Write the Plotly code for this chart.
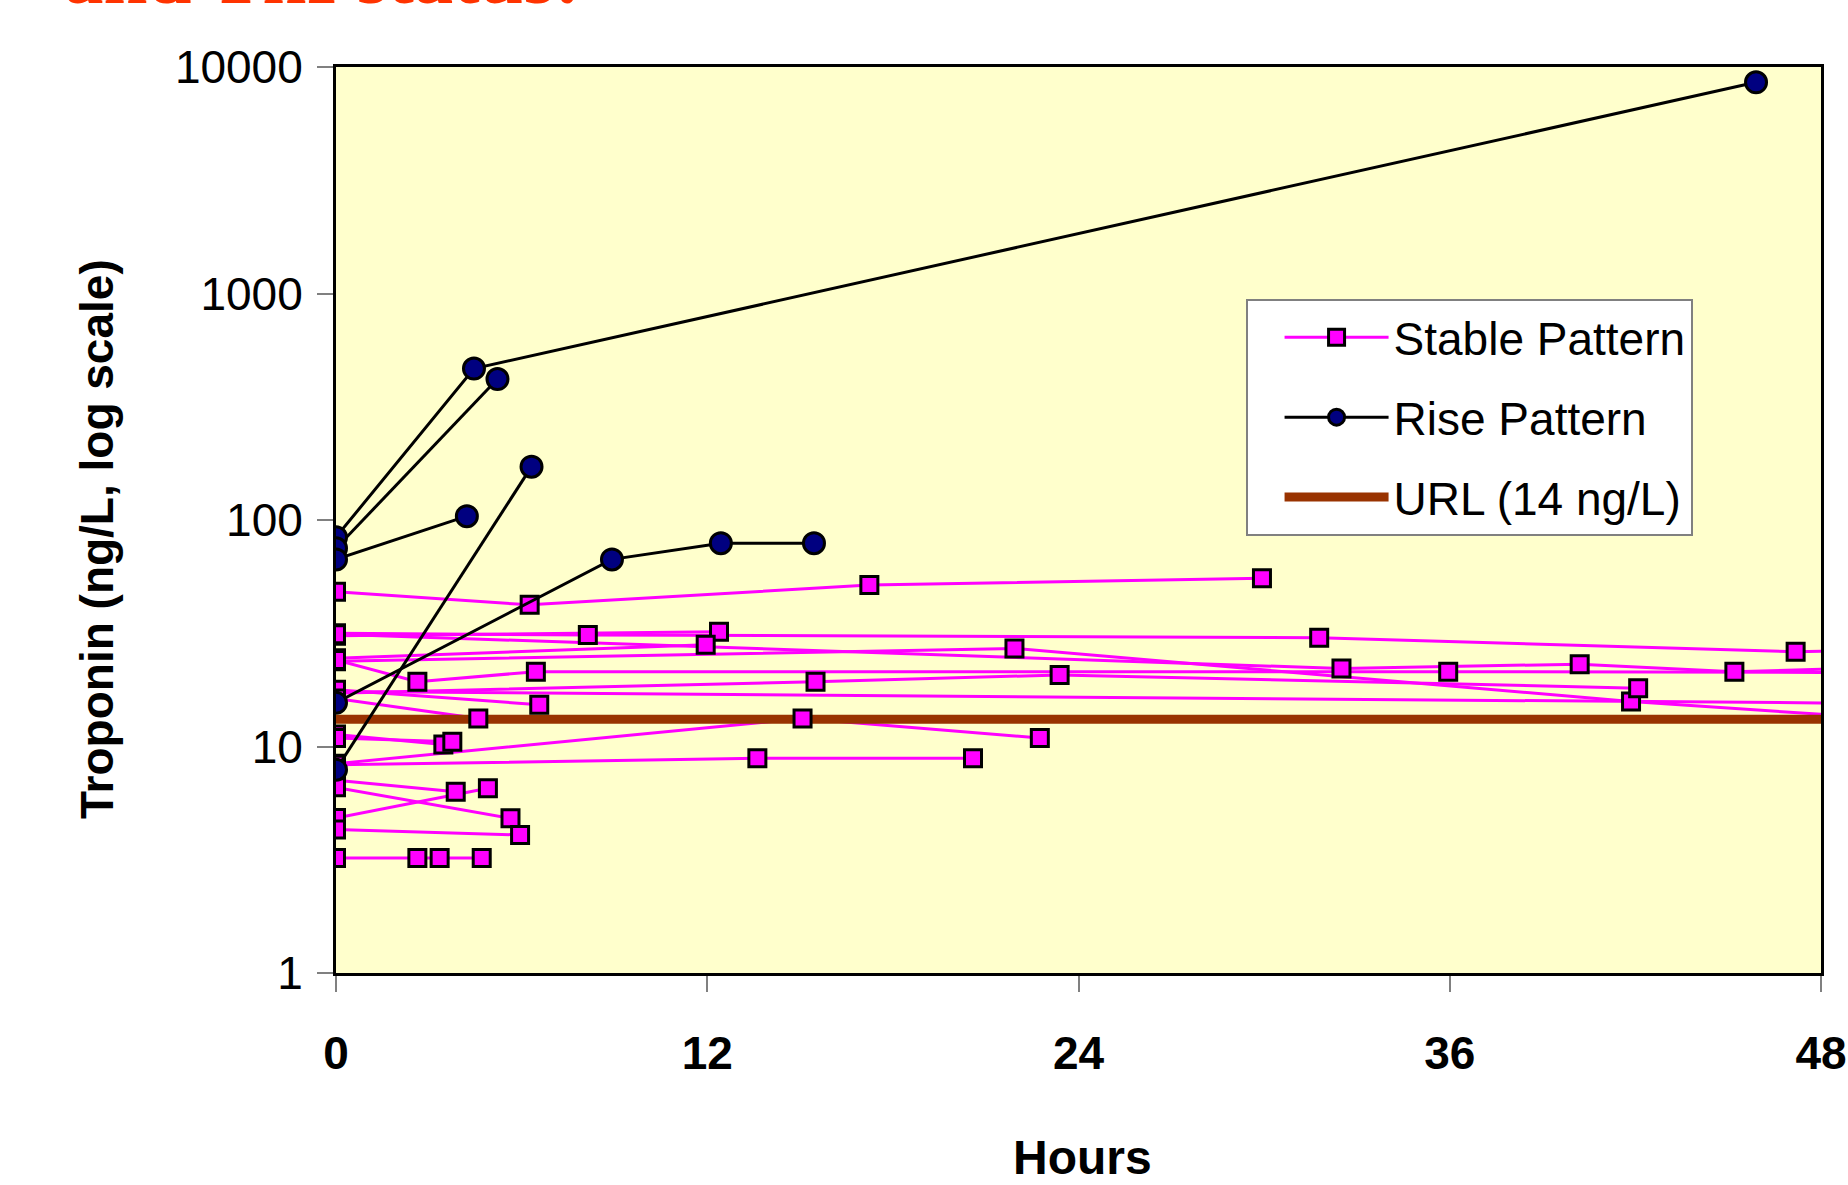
import plotly.graph_objects as go

# ---------------- data (hours, troponin ng/L) ----------------
# Stable pattern patients
st01_h = [0, 6.26, 17.24, 29.93];        st01_v = [48.2, 42.2, 51.6, 55.3]
st02_h = [0, 8.14, 31.78, 47.18, 50];    st02_v = [31.6, 31.1, 30.2, 26.2, 26.7]
st03_h = [0, 12.38];                     st03_v = [30.8, 32.1]
st04_h = [0, 32.5, 40.2, 45.2, 50];      st04_v = [31.3, 22.1, 23.1, 21.4, 22.3]
st05_h = [0, 11.95];                     st05_v = [24.5, 28.1]
st06_h = [0, 21.93, 41.86, 50];          st06_v = [23.8, 27.1, 15.8, 13.3]
st07_h = [0, 2.63, 6.46, 35.95, 50];     st07_v = [24.1, 19.3, 21.4, 21.4, 21.2]
st08_h = [0, 15.5, 23.39, 42.09];        st08_v = [17.2, 19.3, 20.7, 18.1]
st09_h = [0, 50];                        st09_v = [17.5, 15.5]
st10_h = [0, 6.57];                      st10_v = [17.8, 15.3]
st11_h = [0, 4.6];                       st11_v = [16.3, 13.3]
st12_h = [0, 3.47];                      st12_v = [11.3, 10.2]
st13_h = [0, 3.76];                      st13_v = [10.9, 10.5]
st14_h = [0, 15.08, 22.75];              st14_v = [8.4, 13.3, 10.9]
st15_h = [0, 13.62, 20.59];              st15_v = [8.3, 8.87, 8.87]
st16_h = [0, 3.87];                      st16_v = [7.1, 6.31]
st17_h = [0, 4.91];                      st17_v = [4.83, 6.54]
st18_h = [0, 5.64];                      st18_v = [6.6, 4.82]
st19_h = [0, 5.95];                      st19_v = [4.3, 4.07]
st20_h = [0, 2.63, 3.35, 4.71];          st20_v = [3.22, 3.22, 3.22, 3.22]

# Rise pattern patients
ri01_h = [0, 4.46, 45.9];                ri01_v = [84, 466, 8560]
ri02_h = [0, 5.22];                      ri02_v = [75, 419]
ri03_h = [0, 4.23];                      ri03_v = [67, 104]
ri04_h = [0, 6.32];                      ri04_v = [7.9, 172]
ri05_h = [0, 8.92, 12.44, 15.45];        ri05_v = [15.6, 67, 79, 79]

# Upper reference limit line
url_h = [0, 48]
url_v = [13.2, 13.2]

x_ticks = [0, 12, 24, 36, 48]
y_ticks = [1, 10, 100, 1000, 10000]
y_tick_text = ["1", "10", "100", "1000", "10000"]

stable_series = [(st01_h, st01_v), (st02_h, st02_v), (st03_h, st03_v), (st04_h, st04_v),
                 (st05_h, st05_v), (st06_h, st06_v), (st07_h, st07_v), (st08_h, st08_v),
                 (st09_h, st09_v), (st10_h, st10_v), (st11_h, st11_v), (st12_h, st12_v),
                 (st13_h, st13_v), (st14_h, st14_v), (st15_h, st15_v), (st16_h, st16_v),
                 (st17_h, st17_v), (st18_h, st18_v), (st19_h, st19_v), (st20_h, st20_v)]
rise_series = [(ri01_h, ri01_v), (ri02_h, ri02_v), (ri03_h, ri03_v),
               (ri04_h, ri04_v), (ri05_h, ri05_v)]


def join(series):
    xs, ys = [], []
    for h, v in series:
        xs += list(h) + [None]
        ys += list(v) + [None]
    return xs, ys


sx, sy = join(stable_series)
rx, ry = join(rise_series)

MAG = "#FF00FF"
NAVY = "#000080"
BROWN = "#993300"
SANS = "Liberation Sans, Arial, sans-serif"

sq_marker = dict(symbol="square", size=17, color=MAG, line=dict(color="black", width=3))
ci_marker = dict(symbol="circle", size=21, color=NAVY, line=dict(color="black", width=3))

fig = go.Figure()
# stable lines (under the URL line)
fig.add_trace(go.Scatter(x=sx, y=sy, mode="lines", line=dict(color=MAG, width=3),
                         showlegend=False, hoverinfo="skip", legendgroup="s"))
# URL line
fig.add_trace(go.Scatter(x=url_h, y=url_v, mode="lines", name="URL (14 ng/L)",
                         line=dict(color=BROWN, width=9), legendrank=3, legendgroup="u"))
# stable markers
fig.add_trace(go.Scatter(x=sx, y=sy, mode="markers", marker=sq_marker,
                         showlegend=False, legendgroup="s"))
# legend entry for stable
fig.add_trace(go.Scatter(x=[None], y=[None], mode="lines+markers", name="Stable Pattern",
                         line=dict(color=MAG, width=3), marker=sq_marker,
                         legendrank=1, legendgroup="s"))
# rise pattern
fig.add_trace(go.Scatter(x=rx, y=ry, mode="lines+markers", name="Rise Pattern",
                         line=dict(color="black", width=3), marker=ci_marker,
                         legendrank=2, legendgroup="r"))

L, R, T, B = 336, 27, 67, 212
fig.update_layout(
    width=1848, height=1185,
    margin=dict(l=L, r=R, t=T, b=B, pad=0, autoexpand=False),
    paper_bgcolor="white",
    plot_bgcolor="#FFFFCC",
    font=dict(family=SANS, color="black"),
    showlegend=True,
    legend=dict(
        x=0.6125, y=0.744, xanchor="left", yanchor="top",
        bgcolor="white", bordercolor="#808080", borderwidth=2,
        font=dict(family=SANS, size=46, color="black"),
        tracegroupgap=17, itemwidth=104, indentation=32,
        traceorder="grouped",
    ),
    xaxis=dict(
        range=[0, 48], tickvals=x_ticks, ticktext=[str(t) for t in x_ticks],
        showgrid=False, zeroline=False, automargin=False,
        showline=True, linecolor="black", linewidth=3, mirror=True,
        ticks="outside", ticklen=16, tickwidth=2, tickcolor="#808080",
        tickfont=dict(family=SANS, size=46, color="black", weight="bold"),
        ticklabelstandoff=22, ticklabeloverflow="allow",
    ),
    yaxis=dict(
        type="log", range=[0, 4], tickvals=y_ticks, ticktext=y_tick_text,
        showgrid=False, zeroline=False, automargin=False,
        showline=True, linecolor="black", linewidth=3, mirror=True,
        ticks="outside", ticklen=16, tickwidth=2, tickcolor="#808080",
        tickfont=dict(family=SANS, size=46, color="black"),
        ticklabelstandoff=5,
    ),
    annotations=[
        dict(text="<b>and TnI status:</b>", xref="paper", yref="paper",
             x=-0.1845, y=1.05, xanchor="left", yanchor="bottom", showarrow=False,
             font=dict(family="Liberation Serif, Times New Roman, serif", size=79,
                       color="#FF3300")),
        dict(text="<b>Troponin (ng/L, log scale)</b>", xref="paper", yref="paper",
             x=-0.161, y=0.479, xanchor="center", yanchor="middle", textangle=-90,
             showarrow=False, font=dict(family=SANS, size=46, color="black")),
        dict(text="<b>Hours</b>", xref="paper", yref="paper",
             x=0.5024, y=-0.204, xanchor="center", yanchor="middle",
             showarrow=False, font=dict(family=SANS, size=48, color="black")),
    ],
)

fig.write_html("out.html")
